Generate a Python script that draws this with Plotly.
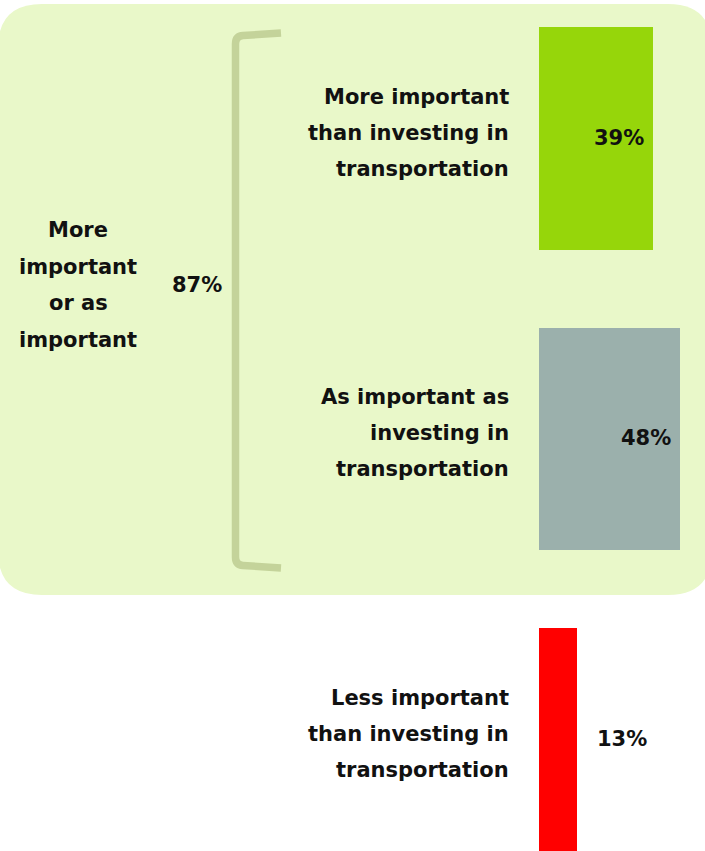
import plotly.graph_objects as go

categories = [["More important", "than investing in", "transportation"],
              ["As important as", "investing in", "transportation"],
              ["Less important", "than investing in", "transportation"]]
values = [39, 48, 13]
bar_colors = ["#96D60A", "#9BB0AC", "#FF0000"]
value_labels = ["39%", "48%", "13%"]
group_label = ["More", "important", "or as", "important"]
group_value = "87%"

W, H = 705, 851
PX_PER = 2.93
X0PX = 539
PITCH = 300.5
C0 = 138.5

xr = [-X0PX / PX_PER, (W - X0PX) / PX_PER]
top = -C0 / PITCH
yr = [top + H / PITCH, top]

ypos = list(range(len(values)))

FONT = "DejaVu Sans"
FS = 21
LINE = 36
TXT = "#111111"

fig = go.Figure()
fig.add_trace(go.Bar(
    x=values, y=ypos, orientation="h",
    marker=dict(color=bar_colors, line=dict(width=0)),
    width=0.742, hoverinfo="skip", showlegend=False,
))

def px(x):
    return x / W

def py(y):
    return 1 - y / H

# rounded background rectangle (paper coords)
L, T, R, B, rr = -2, 4, 712, 595, 44
path = (f"M {px(L+rr)},{py(T)} L {px(R-rr)},{py(T)} Q {px(R)},{py(T)} {px(R)},{py(T+rr)} "
        f"L {px(R)},{py(B-rr)} Q {px(R)},{py(B)} {px(R-rr)},{py(B)} "
        f"L {px(L+rr)},{py(B)} Q {px(L)},{py(B)} {px(L)},{py(B-rr)} "
        f"L {px(L)},{py(T+rr)} Q {px(L)},{py(T)} {px(L+rr)},{py(T)} Z")
shapes = [dict(type="path", xref="paper", yref="paper", path=path,
               fillcolor="#E9F8C9", line=dict(width=0), layer="below")]

# bracket
bx = 235.5
bpath = (f"M {px(281)},{py(33)} L {px(243)},{py(35.5)} Q {px(bx)},{py(36)} {px(bx)},{py(44)} "
         f"L {px(bx)},{py(557)} Q {px(bx)},{py(565)} {px(243)},{py(565.5)} L {px(281)},{py(568)}")
shapes.append(dict(type="path", xref="paper", yref="paper", path=bpath,
                   line=dict(color="#C4D39A", width=7.5), layer="below"))

font = dict(family=FONT, size=FS, color=TXT, weight="bold")
annotations = []
for i, (lines, v, lab) in enumerate(zip(categories, values, value_labels)):
    n = len(lines)
    for k, ln in enumerate(lines):
        annotations.append(dict(x=0, y=i, xref="x", yref="y", text=ln, showarrow=False,
                                xanchor="right", yanchor="middle", xshift=-28,
                                yshift=((n - 1) / 2 - k) * LINE + 6, font=font))
    if v >= 30:
        annotations.append(dict(x=v, y=i, xref="x", yref="y", text=lab, showarrow=False,
                                xanchor="right", xshift=-7, yshift=1, font=font))
    else:
        annotations.append(dict(x=v, y=i, xref="x", yref="y", text=lab, showarrow=False,
                                xanchor="left", xshift=18, yshift=1, font=font))

n = len(group_label)
for k, ln in enumerate(group_label):
    annotations.append(dict(x=px(78), y=py(285), xref="paper", yref="paper", text=ln,
                            showarrow=False, xanchor="center", yanchor="middle",
                            yshift=((n - 1) / 2 - k) * 36.7, font=font))
annotations.append(dict(x=px(197), y=py(285), xref="paper", yref="paper", text=group_value,
                        showarrow=False, xanchor="center", yanchor="middle", font=font))

fig.update_layout(
    width=W, height=H,
    margin=dict(l=0, r=0, t=0, b=0),
    paper_bgcolor="white", plot_bgcolor="rgba(0,0,0,0)",
    xaxis=dict(range=xr, visible=False, fixedrange=True),
    yaxis=dict(range=yr, visible=False, fixedrange=True),
    shapes=shapes, annotations=annotations,
    bargap=0,
)

fig.write_html("out.html", config={"displayModeBar": False},
               post_script="document.body.style.margin='0';document.body.style.overflow='hidden';")
